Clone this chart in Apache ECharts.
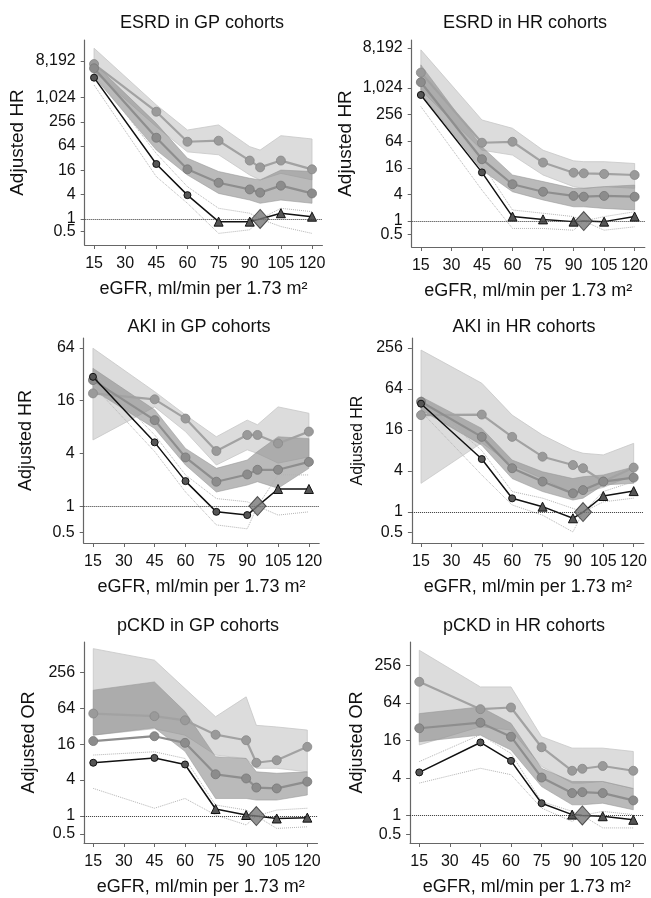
<!DOCTYPE html>
<html>
<head>
<meta charset="utf-8">
<script src="https://cdn.jsdelivr.net/npm/echarts@6/dist/echarts.min.js"></script>
<style>
  html, body { margin: 0; padding: 0; background: #fff; }
  #chart { width: 651px; height: 898px; }
</style>
</head>
<body>
<div id="chart"></div>
<script>
// eGFR points (ml/min per 1.73 m2), 95 = reference cell
const egfr = [15, 45, 60, 75, 90, 95, 105, 120];
const xTicks = [15, 30, 45, 60, 75, 90, 105, 120];
const refPoint = [95, 1];
const hrTicksWide = [0.5, 1, 4, 16, 64, 256, 1024, 8192];
const hrTicksAkiGp = [0.5, 1, 4, 16, 64];
const hrTicksAkiHr = [0.5, 1, 4, 16, 64, 256];
const orTicks = [0.5, 1, 4, 16, 64, 256];

// ESRD in GP cohorts
const esrdGpBlack = [3170, 23, 3.9, 0.86, 0.86, 1, 1.39, 1.14];
const esrdGpSig = [1, 1, 1, 0, 0, null, 0, 0];
const esrdGpMid = [5400, 103, 17, 7.9, 5.4, 4.5, 6.7, 4.3];
const esrdGpHigh = [6900, 455, 82, 87, 28, 19, 28, 17];
const esrdGpHighLo = [4480, 194, 46, 39, 12.3, 9.3, 13.5, 9.3];
const esrdGpHighHi = [17000, 670, 160, 214, 62, 51, 116, 96];
const esrdGpMidLo = [3350, 51, 12.3, 4.3, 2.95, 2.45, 2.95, 2.45];
const esrdGpMidHi = [7180, 234, 32, 15, 10.2, 9.3, 16.3, 15];
const esrdGpCiLo = [2090, 11.2, 2.45, 0.44, 0.54, 1, 0.65, 0.44];
const esrdGpCiHi = [4070, 42, 6.3, 1.84, 1.39, 1, 1.84, 1.52];

// ESRD in HR cohorts
const esrdHrBlack = [710, 12.6, 1.26, 1.09, 0.97, 1, 0.97, 1.26];
const esrdHrSig = [1, 1, 0, 0, 0, null, 0, 0];
const esrdHrMid = [1380, 25, 6.8, 4.6, 3.7, 3.55, 3.7, 3.55];
const esrdHrHigh = [2270, 59, 62, 21, 12.4, 12, 11.6, 11];
const esrdHrHighLo = [920, 40, 31, 11, 6, 5.5, 6, 5.5];
const esrdHrHighHi = [7430, 193, 125, 40, 23, 22, 22, 20];
const esrdHrMidLo = [776, 14.2, 4.6, 3, 2.1, 2.1, 1.93, 1.78];
const esrdHrMidHi = [3400, 48, 11, 7.8, 5.5, 5.5, 6, 6.5];
const esrdHrCiLo = [388, 5, 0.68, 0.68, 0.62, 1, 0.62, 0.74];
const esrdHrCiHi = [1550, 19.7, 1.78, 1.5, 1.26, 1, 1.26, 1.62];

// AKI in GP cohorts
const akiGpBlack = [30, 5.35, 1.93, 0.86, 0.79, 1, 1.57, 1.57];
const akiGpSig = [1, 1, 1, 1, 1, null, 0, 0];
const akiGpMid = [27.5, 9.6, 3.6, 1.9, 2.3, 2.6, 2.6, 3.2];
const akiGpHigh = [19.4, 16.6, 10, 4.26, 6.5, 6.5, 5.2, 7.1];
const akiGpHighLo = [5.7, 13.6, 7.1, 2.95, 4.4, 4, 3.1, 3.65];
const akiGpHighHi = [63.6, 20.3, 11, 6.2, 9.6, 8.5, 13.6, 11.5];
const akiGpMidLo = [21.3, 7.7, 2.95, 1.45, 1.74, 1.9, 1.6, 2.7];
const akiGpMidHi = [37.5, 12.6, 4.56, 2.7, 3.36, 4.2, 6.2, 5.9];
const akiGpCiLo = [24, 4.2, 1.45, 0.61, 0.55, 1, 0.79, 0.86];
const akiGpCiHi = [34, 6.5, 2.27, 1.22, 1.12, 1, 2.27, 2.27];

// AKI in HR cohorts
const akiHrBlack = [39, 6, 1.59, 1.2, 0.81, 1, 1.72, 2.03];
const akiHrSig = [1, 1, 1, 0, 0, null, 0, 0];
const akiHrMid = [41.6, 12.7, 4.4, 2.8, 1.88, 2.1, 2.8, 3.2];
const akiHrHigh = [26.5, 27, 12.7, 6.5, 4.9, 4.4, 2.8, 4.5];
const akiHrHighLo = [2.64, 10.4, 4.9, 3.1, 1.87, 1.93, 2.3, 3.5];
const akiHrHighHi = [239, 78, 26.5, 13.5, 8.1, 7.3, 6.9, 10.2];
const akiHrMidLo = [31.6, 9.6, 3.1, 2, 1.5, 1.6, 2.5, 2.64];
const akiHrMidHi = [49.5, 16.9, 5.8, 3.9, 3.1, 3.3, 3.5, 4.6];
const akiHrCiLo = [30, 3.5, 1.27, 0.9, 0.51, 1, 1.41, 1.6];
const akiHrCiHi = [48.5, 8, 2, 1.6, 1.13, 1, 2, 2.8];

// pCKD in GP cohorts
const pckdGpBlack = [7.8, 9.4, 7.3, 1.31, 1.04, 1, 0.91, 0.94];
const pckdGpSig = [1, 1, 1, 0, 0, null, 0, 0];
const pckdGpMid = [18, 21.7, 16.8, 5, 4.26, 3, 2.9, 3.76];
const pckdGpHigh = [52, 47, 40, 23, 18.6, 7.8, 8.6, 14.4];
const pckdGpHighLo = [22.6, 29, 22.6, 10.5, 9.2, 6.3, 6.3, 5.5];
const pckdGpHighHi = [635, 407, 136, 46, 99, 33, 31, 27.5];
const pckdGpMidLo = [22.6, 30, 12.1, 1.97, 1.97, 1.85, 1.85, 2.25];
const pckdGpMidHi = [128, 176, 56, 9.85, 9.2, 5.5, 5.2, 5.5];
const pckdGpCiLo = [2.9, 1.35, 1.97, 1.04, 0.71, 1, 0.62, 0.66];
const pckdGpCiHi = [10.5, 11.9, 9.2, 1.53, 1.26, 1, 1.26, 1.35];

// pCKD in HR cohorts
const pckdHrBlack = [4.9, 14.8, 7.5, 1.57, 1.03, 1, 0.97, 0.85];
const pckdHrSig = [1, 1, 1, 1, 0, null, 0, 0];
const pckdHrMid = [25, 30.7, 18.3, 4.05, 2.28, 2.36, 2.28, 1.74];
const pckdHrHigh = [139, 50.6, 53.8, 12.4, 5.2, 5.6, 6.2, 5.2];
const pckdHrHighLo = [13.5, 26.5, 23.4, 6.1, 3.3, 3.3, 3.5, 2.7];
const pckdHrHighHi = [446, 115, 115, 18.3, 12, 12, 12, 10.6];
const pckdHrMidLo = [15.2, 19.4, 11.2, 2.9, 1.48, 1.48, 1.57, 1.23];
const pckdHrMidHi = [43, 55, 30, 5.7, 3.5, 3.5, 3.5, 2.7];
const pckdHrCiLo = [3.3, 5.7, 4.5, 1.31, 0.8, 1, 0.63, 0.63];
const pckdHrCiHi = [7.3, 19.7, 9.85, 1.67, 1.16, 1, 1.16, 1.03];

const FONT = '"Liberation Sans", Arial, Helvetica, sans-serif';

const panels = [
  { title: 'ESRD in GP cohorts', yName: 'Adjusted HR', yTicks: hrTicksWide,
    grid: { left: 84.7, top: 40, width: 237.7, height: 205 }, yExp: [-2.14, 14.73],
    titleAt: [202, 24], nameGap: 57, nameSize: 19,
    black: esrdGpBlack, sig: esrdGpSig, mid: esrdGpMid, high: esrdGpHigh,
    highLo: esrdGpHighLo, highHi: esrdGpHighHi, midLo: esrdGpMidLo, midHi: esrdGpMidHi,
    ciLo: esrdGpCiLo, ciHi: esrdGpCiHi },
  { title: 'ESRD in HR cohorts', yName: 'Adjusted HR', yTicks: hrTicksWide,
    grid: { left: 411.7, top: 40, width: 235.5, height: 207 }, yExp: [-1.95, 13.6],
    titleAt: [525, 24], nameGap: 56, nameSize: 19,
    black: esrdHrBlack, sig: esrdHrSig, mid: esrdHrMid, high: esrdHrHigh,
    highLo: esrdHrHighLo, highHi: esrdHrHighHi, midLo: esrdHrMidLo, midHi: esrdHrMidHi,
    ciLo: esrdHrCiLo, ciHi: esrdHrCiHi },
  { title: 'AKI in GP cohorts', yName: 'Adjusted HR', yTicks: hrTicksAkiGp,
    grid: { left: 83.7, top: 338, width: 235.5, height: 205 }, yExp: [-1.4, 6.38],
    titleAt: [199, 328], nameGap: 49, nameSize: 18,
    black: akiGpBlack, sig: akiGpSig, mid: akiGpMid, high: akiGpHigh,
    highLo: akiGpHighLo, highHi: akiGpHighHi, midLo: akiGpMidLo, midHi: akiGpMidHi,
    ciLo: akiGpCiLo, ciHi: akiGpCiHi },
  { title: 'AKI in HR cohorts', yName: 'Adjusted HR', yTicks: hrTicksAkiHr,
    grid: { left: 411.9, top: 338, width: 231.9, height: 205 }, yExp: [-1.51, 8.49],
    titleAt: [524, 328], nameGap: 46, nameSize: 16,
    black: akiHrBlack, sig: akiHrSig, mid: akiHrMid, high: akiHrHigh,
    highLo: akiHrHighLo, highHi: akiHrHighHi, midLo: akiHrMidLo, midHi: akiHrMidHi,
    ciLo: akiHrCiLo, ciHi: akiHrCiHi },
  { title: 'pCKD in GP cohorts', yName: 'Adjusted OR', yTicks: orTicks,
    grid: { left: 84.1, top: 642, width: 233.4, height: 201 }, yExp: [-1.5, 9.68],
    titleAt: [198, 627], nameGap: 46, nameSize: 18,
    black: pckdGpBlack, sig: pckdGpSig, mid: pckdGpMid, high: pckdGpHigh,
    highLo: pckdGpHighLo, highHi: pckdGpHighHi, midLo: pckdGpMidLo, midHi: pckdGpMidHi,
    ciLo: pckdGpCiLo, ciHi: pckdGpCiHi },
  { title: 'pCKD in HR cohorts', yName: 'Adjusted OR', yTicks: orTicks,
    grid: { left: 410.1, top: 642, width: 233.4, height: 201 }, yExp: [-1.47, 9.24],
    titleAt: [524, 627], nameGap: 44, nameSize: 18,
    black: pckdHrBlack, sig: pckdHrSig, mid: pckdHrMid, high: pckdHrHigh,
    highLo: pckdHrHighLo, highHi: pckdHrHighHi, midLo: pckdHrMidLo, midHi: pckdHrMidHi,
    ciLo: pckdHrCiLo, ciHi: pckdHrCiHi }
];

function fmtY(v) {
  if (v < 1) return String(+v.toFixed(2));
  return Math.round(v).toLocaleString('en-US');
}

// 0.5 and 1 sit close together; echarts hides the first label when it
// touches the second one, so the third tick is put first
function labelOrder(ticks) {
  return [ticks[2], ticks[0], ticks[1]].concat(ticks.slice(3));
}

// shaded confidence band: one polygon per series, placed through the axes
function band(idx, lo, hi, fill, stroke) {
  return {
    type: 'custom', xAxisIndex: idx, yAxisIndex: idx, silent: true, z: 1,
    data: egfr.map((x, i) => [x, lo[i], hi[i]]),
    renderItem: function (params, api) {
      if (params.dataIndex !== 0) return null;
      const upper = egfr.map((x, i) => api.coord([x, hi[i]]));
      const lower = egfr.map((x, i) => api.coord([x, lo[i]])).reverse();
      return {
        type: 'polygon',
        shape: { points: upper.concat(lower) },
        style: { fill: fill, stroke: stroke, lineWidth: 0.8 }
      };
    }
  };
}

function pairs(vals) {
  return egfr.map((x, i) => [x, vals[i]]);
}

const chart = echarts.init(document.getElementById('chart'), null, { renderer: 'canvas' });

const grid = [], xAxis = [], yAxis = [], title = [], series = [];

panels.forEach((p, idx) => {
  grid.push(Object.assign({ containLabel: false }, p.grid));
  title.push({
    text: p.title, left: p.titleAt[0], top: p.titleAt[1] - 10, textAlign: 'center', padding: 0,
    textStyle: { fontFamily: FONT, fontSize: 18, fontWeight: 'normal', color: '#111' }
  });
  xAxis.push({
    type: 'value', gridIndex: idx, min: 10.5, max: 125,
    name: 'eGFR, ml/min per 1.73 m²', nameLocation: 'middle', nameGap: 35,
    nameTextStyle: { fontFamily: FONT, fontSize: 18, color: '#111' },
    axisLine: { show: true, lineStyle: { color: '#666', width: 1.2 } },
    axisTick: { show: true, length: 4, customValues: xTicks, lineStyle: { color: '#666' } },
    axisLabel: { customValues: xTicks, margin: 11, hideOverlap: false,
      fontFamily: FONT, fontSize: 16, color: '#111' },
    splitLine: { show: false }
  });
  const yt = labelOrder(p.yTicks);
  yAxis.push({
    type: 'log', logBase: 2, gridIndex: idx,
    min: Math.pow(2, p.yExp[0]), max: Math.pow(2, p.yExp[1]),
    name: p.yName, nameLocation: 'middle', nameRotate: 90, nameGap: p.nameGap,
    nameTextStyle: { fontFamily: FONT, fontSize: p.nameSize, color: '#111' },
    axisLine: { show: true, lineStyle: { color: '#666', width: 1.2 } },
    axisTick: { show: true, length: 4, customValues: yt, lineStyle: { color: '#666' } },
    axisLabel: { customValues: yt, margin: 9, hideOverlap: false,
      fontFamily: FONT, fontSize: 16, color: '#111', formatter: fmtY },
    splitLine: { show: false }
  });

  series.push(band(idx, p.highLo, p.highHi, '#dcdcdc', '#c6c6c6'));
  series.push(band(idx, p.midLo, p.midHi, 'rgba(140,140,140,0.6)', 'rgba(150,150,150,0.7)'));

  [p.ciLo, p.ciHi].forEach(ci => {
    series.push({
      type: 'line', xAxisIndex: idx, yAxisIndex: idx, silent: true, z: 2,
      data: pairs(ci), showSymbol: false,
      lineStyle: { color: '#b4b4b4', width: 1, type: 'dotted' }
    });
  });

  // reference line at 1
  series.push({
    type: 'line', xAxisIndex: idx, yAxisIndex: idx, silent: true, z: 0,
    data: [refPoint], showSymbol: false, lineStyle: { opacity: 0 },
    markLine: {
      silent: true, symbol: 'none', label: { show: false }, animation: false,
      lineStyle: { color: '#333', width: 1, type: 'dotted' },
      data: [{ yAxis: refPoint[1] }]
    }
  });

  series.push({
    type: 'line', xAxisIndex: idx, yAxisIndex: idx, z: 3,
    data: pairs(p.high), symbol: 'circle', symbolSize: 9,
    lineStyle: { color: '#a2a2a2', width: 2.2 },
    itemStyle: { color: '#9a9a9a', borderColor: '#888', borderWidth: 0.8 }
  });
  series.push({
    type: 'line', xAxisIndex: idx, yAxisIndex: idx, z: 3,
    data: pairs(p.mid), symbol: 'circle', symbolSize: 9,
    lineStyle: { color: '#8e8e8e', width: 2.2 },
    itemStyle: { color: '#8c8c8c', borderColor: '#777', borderWidth: 0.8 }
  });
  series.push({
    type: 'line', xAxisIndex: idx, yAxisIndex: idx, z: 4,
    data: egfr.map((x, i) => ({
      value: [x, p.black[i]],
      symbol: p.sig[i] === 1 ? 'circle' : (p.sig[i] === 0 ? 'triangle' : 'none'),
      symbolSize: p.sig[i] === 1 ? 7 : 9
    })),
    showAllSymbol: true,
    lineStyle: { color: '#111', width: 1.5 },
    itemStyle: { color: '#555', borderColor: '#111', borderWidth: 1 }
  });
  series.push({
    type: 'scatter', xAxisIndex: idx, yAxisIndex: idx, z: 5,
    data: [refPoint], symbol: 'diamond', symbolSize: [17, 19],
    itemStyle: { color: '#777', borderColor: '#333', borderWidth: 1 }
  });
});

chart.setOption({
  animation: false,
  backgroundColor: '#fff',
  textStyle: { fontFamily: FONT },
  title: title,
  grid: grid,
  xAxis: xAxis,
  yAxis: yAxis,
  series: series
});
</script>
</body>
</html>
